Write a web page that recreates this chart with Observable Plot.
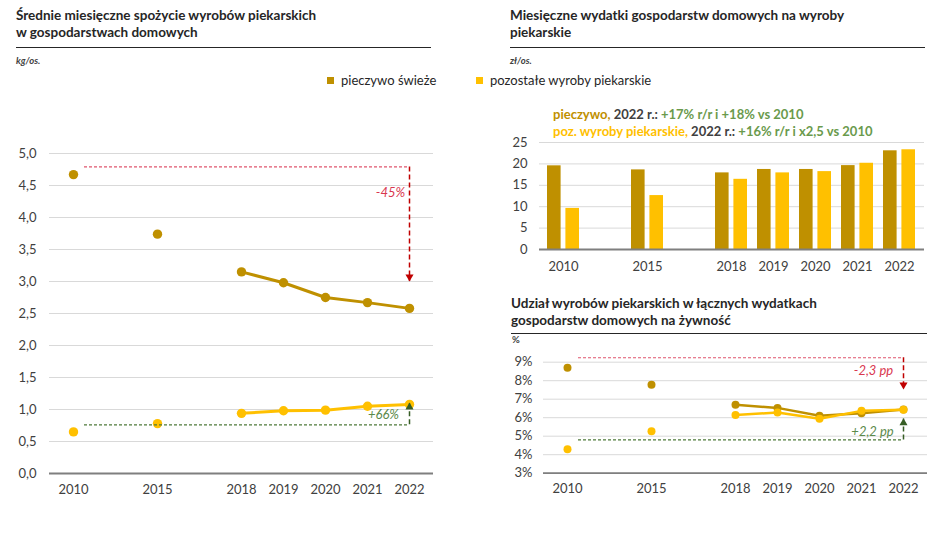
<!DOCTYPE html>
<html>
<head>
<meta charset="utf-8">
<script src="https://cdn.jsdelivr.net/npm/d3@7"></script>
<script src="https://cdn.jsdelivr.net/npm/@observablehq/plot@0.6"></script>
<style>
  html, body { margin: 0; padding: 0; background: #fff; }
  #page { position: relative; width: 940px; height: 538px; overflow: hidden; font-family: Lato, "Open Sans", sans-serif; color: #262626; }
  .title { position: absolute; font-weight: bold; font-size: 13.5px; line-height: 17px; color: #262626; }
  .rule { position: absolute; height: 0; border-top: 1.3px solid #262626; }
  .unit { position: absolute; font-style: italic; font-weight: bold; font-size: 9.5px; color: #404040; }
  .leg { position: absolute; font-size: 13px; color: #262626; line-height: 16px; }
  .sw { display: inline-block; width: 7px; height: 7px; margin-right: 7px; vertical-align: 1px; }
  .note { position: absolute; font-weight: bold; font-size: 13px; line-height: 17px; white-space: nowrap; }
  .plot { position: absolute; }
</style>
</head>
<body>
<div id="page">
  <div class="title" style="left:16px; top:7px;">Średnie miesięczne spożycie wyrobów piekarskich<br>w gospodarstwach domowych</div>
  <div class="rule" style="left:16px; top:47px; width:415px;"></div>
  <div class="unit" style="left:16px; top:55px;">kg/os.</div>

  <div class="title" style="left:510px; top:7px;">Miesięczne wydatki gospodarstw domowych na wyroby<br>piekarskie</div>
  <div class="rule" style="left:510px; top:47px; width:415px;"></div>
  <div class="unit" style="left:510px; top:55px;">zł/os.</div>

  <div id="legend"></div>
  <div id="notes"></div>

  <div class="title" style="left:511px; top:295px;">Udział wyrobów piekarskich w łącznych wydatkach<br>gospodarstw domowych na żywność</div>
  <div class="rule" style="left:511px; top:333px; width:416px;"></div>
  <div class="unit" style="left:512px; top:334px; font-style:normal;">%</div>

  <div id="left" class="plot" style="left:0px; top:130px;"></div>
  <div id="rtop" class="plot" style="left:500px; top:130px;"></div>
  <div id="rbot" class="plot" style="left:500px; top:345px;"></div>
</div>
<script>
// ---------- data ----------
const slots = ["2010", "_a", "2015", "_b", "2018", "2019", "2020", "2021", "2022"];
const years = ["2010", "2015", "2018", "2019", "2020", "2021", "2022"];
const lineYears = ["2018", "2019", "2020", "2021", "2022"];
const seriesNames = ["pieczywo świeże", "pozostałe wyroby piekarskie"];

// average monthly consumption, kg per person
const consFresh = [4.67, 3.74, 3.15, 2.98, 2.75, 2.67, 2.58];
const consOther = [0.65, 0.78, 0.94, 0.98, 0.99, 1.05, 1.08];
const consTicks = [0, 0.5, 1, 1.5, 2, 2.5, 3, 3.5, 4, 4.5, 5];

// monthly spending, zł per person
const spendFresh = [19.55, 18.6, 17.9, 18.7, 18.7, 19.6, 23.06];
const spendOther = [9.6, 12.6, 16.4, 17.9, 18.2, 20.15, 23.3];
const spendTicks = [0, 5, 10, 15, 20, 25];

// share in total food spending, %
const shareFresh = [8.70, 7.78, 6.70, 6.53, 6.10, 6.24, 6.44];
const shareOther = [4.30, 5.27, 6.14, 6.28, 5.94, 6.37, 6.43];
const shareTicks = [3, 4, 5, 6, 7, 8, 9];

// change annotations (values in data units)
const consDown = {start: "2010", end: "2022", from: 4.79, to: 3.0, label: "-45%", labelY: 4.38};
const consUp = {start: "2010", end: "2022", from: 0.76, to: 1.11, label: "+66%", labelY: 0.92};
const shareDown = {start: "2010", end: "2022", from: 9.24, to: 7.52, label: "-2,3 pp", labelY: 8.55};
const shareUp = {start: "2010", end: "2022", from: 4.80, to: 5.97, label: "+2,2 pp", labelY: 5.22};

const notes = [
  [["pieczywo,", "fresh"], [" 2022 r.:", "dark"], [" +17% r/r i +18% vs 2010", "green"]],
  [["poz. wyroby piekarskie,", "other"], [" 2022 r.:", "dark"], [" +16% r/r i x2,5 vs 2010", "green"]]
];

// ---------- styles ----------
const C_FRESH = "#bf9000";
const C_OTHER = "#ffc000";
const C_GRID = "#d9d9d9";
const C_BASE = "#7f7f7f";
const C_TEXT = "#404040";
const C_RED_H = "#e0566e";
const C_RED_V = "#c00000";
const C_RED_T = "#d9374f";
const C_GRN_H = "#4f7a3a";
const C_GRN_V = "#375e25";
const C_GRN_T = "#5b8a4a";
const noteColors = {fresh: C_FRESH, other: C_OTHER, dark: "#404040", green: "#6a9a4c"};

const rows = (vals) => years.map((y, i) => ({year: y, value: vals[i]}));
const lineRows = (vals) => rows(vals).filter(d => lineYears.includes(d.year));
const slotFmt = d => d.startsWith("_") ? "" : d;
const baseStyle = {fontFamily: "Lato, 'Open Sans', sans-serif", fontSize: "13px", color: C_TEXT, background: "transparent", overflow: "visible"};

function changeMarks(a, hColor, vColor, tColor, labelDx) {
  const down = a.to < a.from;
  return [
    Plot.ruleY([a], {y: "from", x1: "start", x2: "end", insetLeft: 11, stroke: hColor, strokeWidth: 1.2, strokeDasharray: "3,2"}),
    Plot.ruleX([a], {x: "end", y1: "from", y2: "to", stroke: vColor, strokeWidth: 1.5, strokeDasharray: "5,3"}),
    Plot.dot([a], {x: "end", y: "to", symbol: "triangle", r: 3, fill: vColor, stroke: null, rotate: down ? 180 : 0, dy: down ? -4.7 : 4.7}),
    Plot.text([a], {x: "end", y: "labelY", text: "label", dx: labelDx, fill: tColor, fontStyle: "italic", fontSize: 13})
  ];
}

// ---------- legend & notes ----------
const legend = document.getElementById("legend");
[[327, C_FRESH], [476, C_OTHER]].forEach(([left, col], i) => {
  const el = document.createElement("div");
  el.className = "leg";
  el.style.left = left + "px";
  el.style.top = "72px";
  el.innerHTML = `<span class="sw" style="background:${col}"></span>${seriesNames[i]}`;
  legend.appendChild(el);
});
const notesEl = document.getElementById("notes");
notes.forEach((parts, i) => {
  const el = document.createElement("div");
  el.className = "note";
  el.style.left = "553px";
  el.style.top = (106 + i * 17) + "px";
  parts.forEach(([t, k]) => {
    const s = document.createElement("span");
    s.textContent = t;
    s.style.color = noteColors[k];
    el.appendChild(s);
  });
  notesEl.appendChild(el);
});

// ---------- left: consumption ----------
document.getElementById("left").appendChild(Plot.plot({
  width: 440, height: 380,
  marginLeft: 49, marginRight: 7, marginTop: 23, marginBottom: 37,
  style: baseStyle,
  x: {type: "point", domain: slots, padding: 0.5, tickFormat: slotFmt, tickSize: 0, tickPadding: 11, label: null},
  y: {domain: [0, 5], ticks: consTicks, tickFormat: d => d.toFixed(1).replace(".", ","), tickSize: 0, tickPadding: 13, label: null},
  marks: [
    Plot.gridY(consTicks, {stroke: C_GRID, strokeOpacity: 1, strokeWidth: 1}),
    Plot.ruleY([0], {stroke: C_BASE, strokeWidth: 1.8}),
    ...changeMarks(consDown, C_RED_H, C_RED_V, C_RED_T, -19),
    Plot.line(lineRows(consFresh), {x: "year", y: "value", stroke: C_FRESH, strokeWidth: 3}),
    Plot.dot(rows(consFresh), {x: "year", y: "value", r: 4.7, fill: C_FRESH}),
    Plot.line(lineRows(consOther), {x: "year", y: "value", stroke: C_OTHER, strokeWidth: 3}),
    Plot.dot(rows(consOther), {x: "year", y: "value", r: 4.7, fill: C_OTHER}),
    ...changeMarks(consUp, C_GRN_H, C_GRN_V, C_GRN_T, -26)
  ]
}));

// ---------- right top: spending ----------
document.getElementById("rtop").appendChild(Plot.plot({
  width: 440, height: 150,
  marginLeft: 39, marginRight: 16, marginTop: 12, marginBottom: 31,
  style: baseStyle,
  x: {type: "band", domain: slots, paddingInner: 0.23, paddingOuter: 0.115, tickFormat: slotFmt, tickSize: 0, tickPadding: 12, label: null},
  y: {domain: [0, 25], ticks: spendTicks, tickSize: 0, tickPadding: 12, label: null},
  marks: [
    Plot.gridY(spendTicks, {stroke: C_GRID, strokeOpacity: 1, strokeWidth: 1}),
    Plot.barY(rows(spendFresh), {x: "year", y: "value", fill: C_FRESH, insetRight: 18.4}),
    Plot.barY(rows(spendOther), {x: "year", y: "value", fill: C_OTHER, insetLeft: 18.4}),
    Plot.ruleY([0], {stroke: C_BASE, strokeWidth: 1.8})
  ]
}));

// ---------- right bottom: share ----------
document.getElementById("rbot").appendChild(Plot.plot({
  width: 440, height: 160,
  marginLeft: 43, marginRight: 13, marginTop: 16.7, marginBottom: 32.3,
  style: baseStyle,
  x: {type: "point", domain: slots, padding: 0.5, tickFormat: slotFmt, tickSize: 0, tickPadding: 11, label: null},
  y: {domain: [3, 9], ticks: shareTicks, tickFormat: d => d + "%", tickSize: 0, tickPadding: 11, label: null},
  marks: [
    Plot.gridY(shareTicks, {stroke: C_GRID, strokeOpacity: 1, strokeWidth: 1}),
    Plot.ruleY([3], {stroke: C_BASE, strokeWidth: 1.8}),
    ...changeMarks(shareDown, C_RED_H, C_RED_V, C_RED_T, -30),
    Plot.line(lineRows(shareFresh), {x: "year", y: "value", stroke: C_FRESH, strokeWidth: 2.5}),
    Plot.dot(rows(shareFresh), {x: "year", y: "value", r: 4, fill: C_FRESH}),
    Plot.line(lineRows(shareOther), {x: "year", y: "value", stroke: C_OTHER, strokeWidth: 2.5}),
    Plot.dot(rows(shareOther), {x: "year", y: "value", r: 4, fill: C_OTHER}),
    ...changeMarks(shareUp, C_GRN_H, C_GRN_V, C_GRN_T, -31)
  ]
}));
</script>
</body>
</html>
